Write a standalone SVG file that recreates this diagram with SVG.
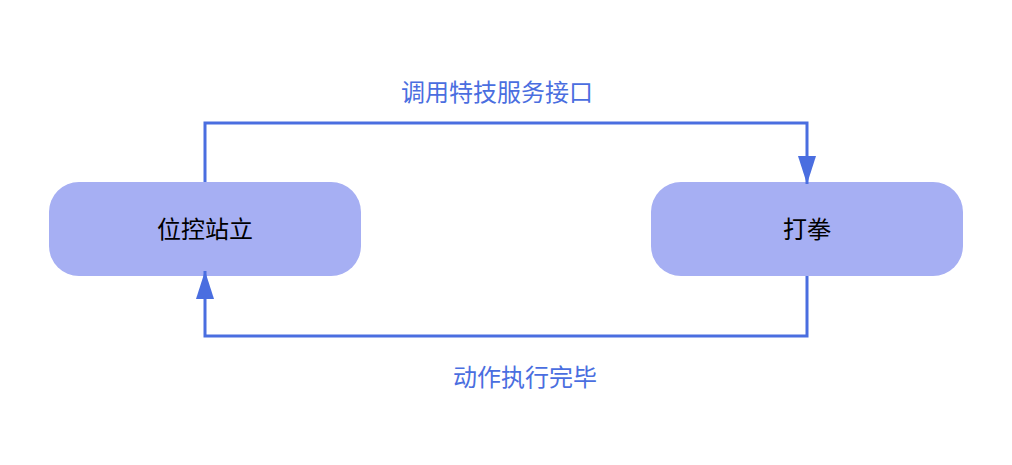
<svg xmlns="http://www.w3.org/2000/svg" width="1012" height="465" viewBox="0 0 1012 465">
<style>
.node{fill:#a6aff3}
.t{font-family:"Noto Sans CJK SC",sans-serif;font-size:24px;fill:#000;text-anchor:middle}
.l{font-family:"Noto Sans CJK SC",sans-serif;font-size:24px;fill:#4a6ee0;text-anchor:middle}
.c{fill:none;stroke:#4a6ee0;stroke-width:3}
</style>
<defs><marker id="a" markerWidth="10" markerHeight="14" refX="10" refY="7" orient="auto" markerUnits="userSpaceOnUse" viewBox="0 0 10 14"><path d="M0,0L10,7L0,14z" fill="#4a6ee0" transform="scale(1)"/></marker>
<marker id="b" viewBox="0 0 28 18" refX="28" refY="9" markerWidth="28" markerHeight="18" orient="auto" markerUnits="userSpaceOnUse"><path d="M0,0L28,9L0,18z" fill="#4a6ee0"/></marker></defs>
<rect width="1012" height="465" fill="#fff"/>
<g id="n1"><rect class="node" x="49" y="182" width="312" height="94" rx="30"/><text class="t" x="205" y="238">位控站立</text></g>
<g id="n2"><rect class="node" x="651" y="182" width="312" height="94" rx="30"/><text class="t" x="807" y="238">打拳</text></g>
<g id="connectors">
<path class="c" d="M205,182V123H807V184" marker-end="url(#b)"/>
<path class="c" d="M807,276V336H205V271" marker-end="url(#b)"/>
<text class="l" x="497" y="101">调用特技服务接口</text>
<text class="l" x="525" y="386">动作执行完毕</text>
</g>
</svg>
